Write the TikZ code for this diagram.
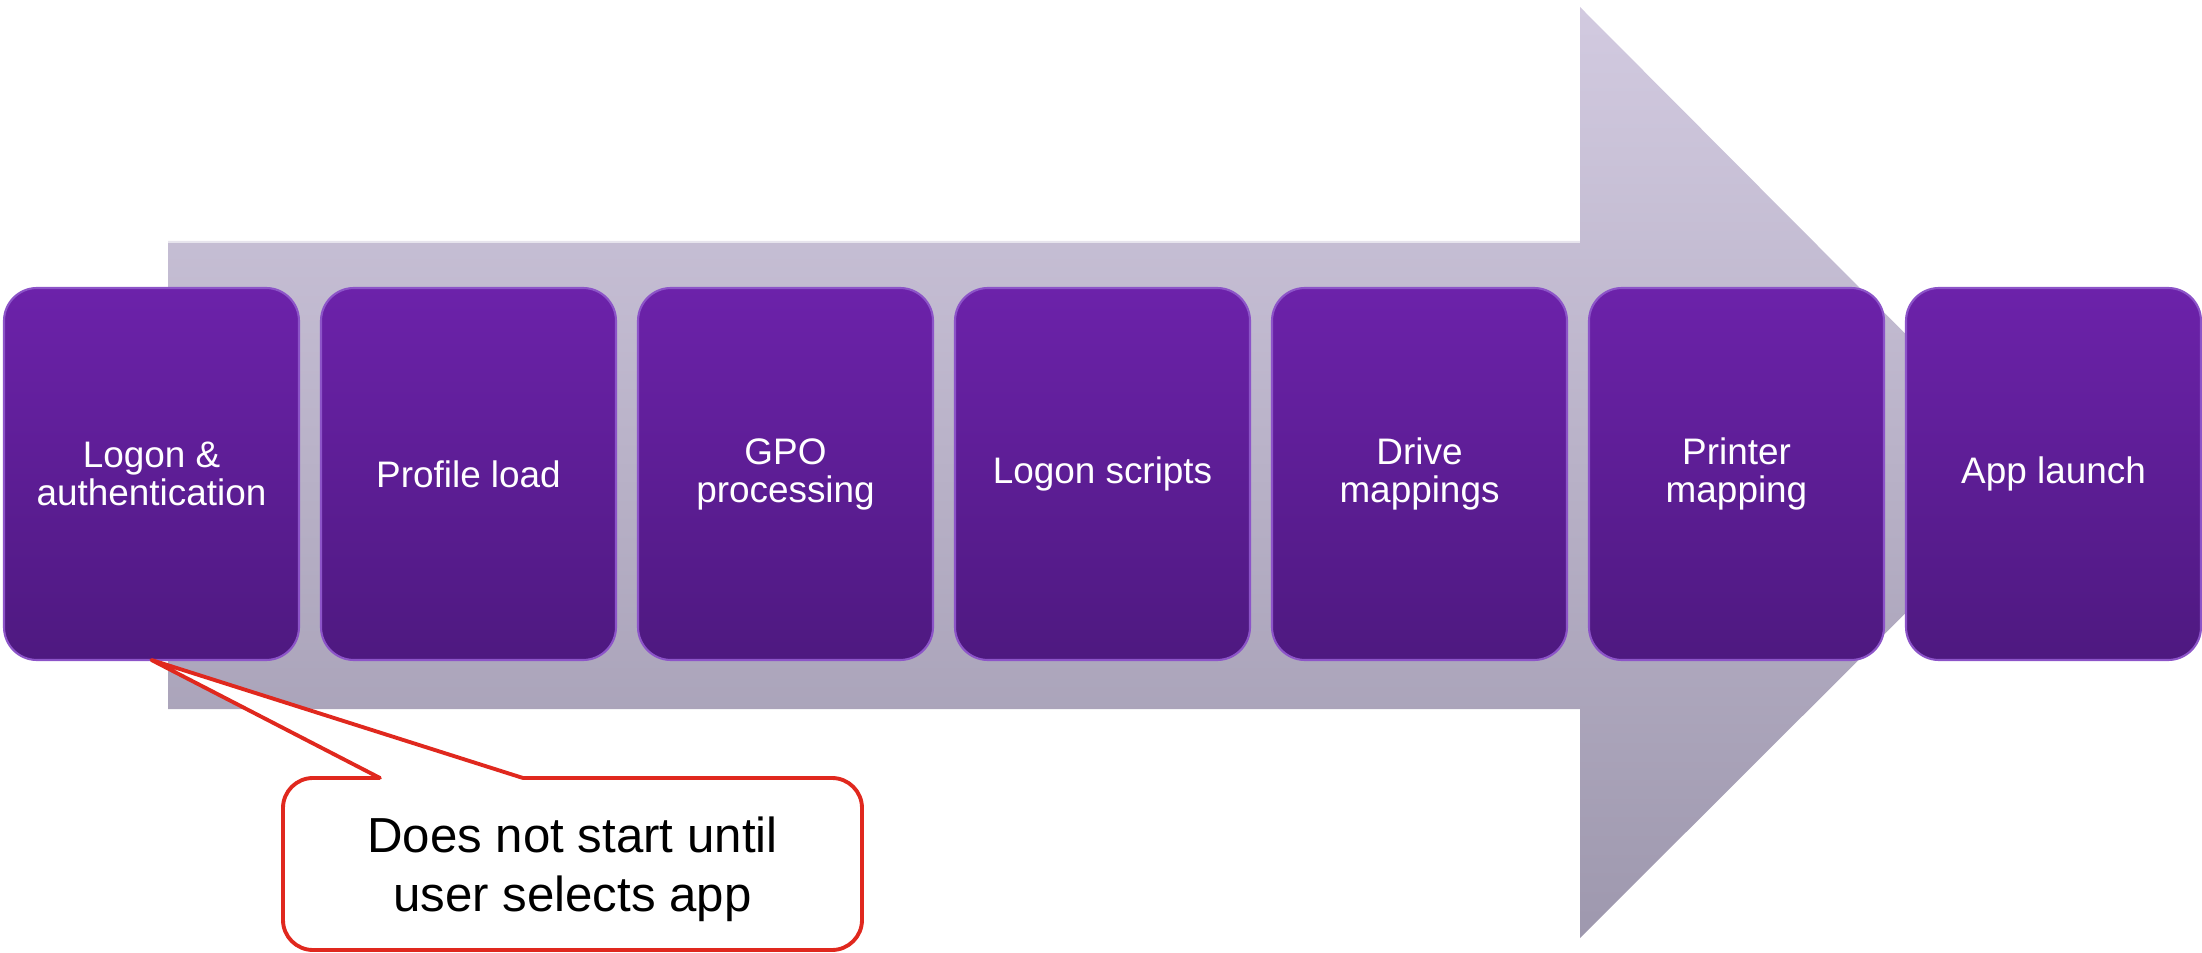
\documentclass[tikz,border=0pt]{standalone}
\usepackage{fontspec}
\setmainfont{Liberation Sans}
\usetikzlibrary{shapes,arrows,positioning,fit}
\def \gp {0.22cm}
\definecolor{boxtop}{RGB}{108,34,170}
\definecolor{boxbot}{RGB}{78,25,128}
\definecolor{boxedge}{RGB}{140,84,200}
\definecolor{arrtop}{RGB}{210,202,224}
\definecolor{arrbot}{RGB}{158,152,174}
\definecolor{notered}{RGB}{224,40,30}

\begin{document}
\begin{tikzpicture}[auto,node distance=\gp,
    stage/.style={rectangle,rounded corners=0.33cm,minimum width=2.95cm,minimum height=3.72cm,
      top color=boxtop,bottom color=boxbot,draw=boxedge,line width=0.6pt,outer sep=0pt,
      text=white,align=center,font=\fontsize{10.5}{10.8}\selectfont},
    note/.style={rectangle,rounded corners=0.3cm,minimum width=5.79cm,minimum height=1.72cm,
      fill=white,draw=notered,line width=1.1pt,outer sep=0pt,text depth=0pt,
      align=center,font=\fontsize{14}{16.6}\selectfont}]
    \useasboundingbox (0,0) rectangle (22.02,9.52);
    % big arrow behind the steps
    \shade[top color=arrtop,bottom color=arrbot] (1.68,2.43) -- (15.80,2.43) -- (15.80,0.14)
      -- (20.45,4.78) -- (15.80,9.45) -- (15.80,7.11) -- (1.68,7.11) -- cycle;
    \draw[white,opacity=0.6,line width=1pt] (1.68,7.11) -- (15.80,7.11);
    \node[stage] (logon) at (1.515,4.78) {Logon \&\\authentication};
    \node[stage,right=of logon] (profile) {Profile load};
    \node[stage,right=of profile] (gpo) {GPO\\processing};
    \node[stage,right=of gpo] (scripts) {Logon scripts};
    \node[stage,right=of scripts] (drives) {Drive\\mappings};
    \node[stage,right=of drives] (printer) {Printer\\mapping};
    \node[stage,right=of printer] (app) {App launch};
    % callout
    \node[note] (wait) at (5.725,0.88) {Does not start until\\user selects app};
    \coordinate (pa) at ([xshift=-1.925cm]wait.north);
    \coordinate (pb) at ([xshift=-0.495cm]wait.north);
    \fill[white] (pa) -- (logon.south) -- (pb) -- cycle;
    \fill[white] ([yshift=1pt]pa) rectangle ([yshift=-1pt]pb);
    \draw[notered,line width=1.1pt,line join=round,line cap=round] (pa) -- (logon.south) -- (pb);
\end{tikzpicture}
\end{document}
